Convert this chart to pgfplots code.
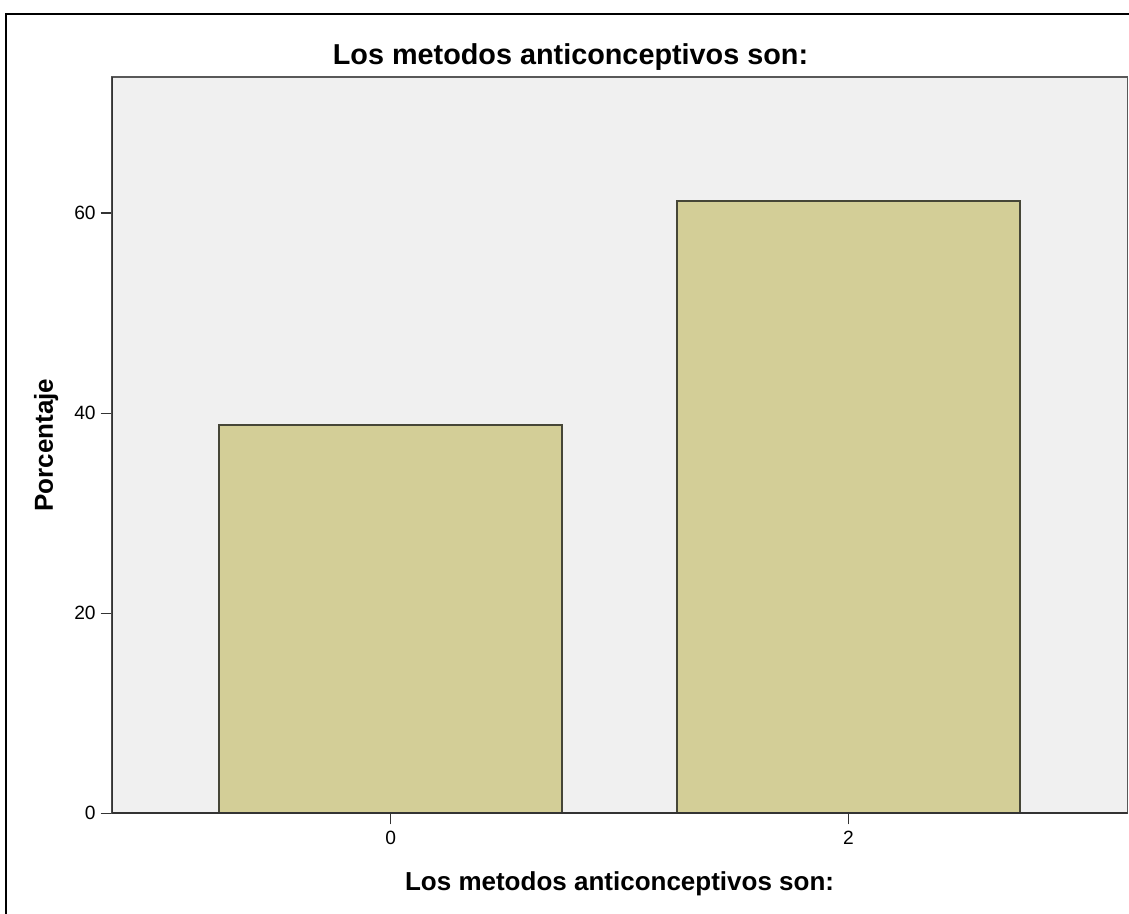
\documentclass[border=0pt]{standalone}
\usepackage{pgfplots}
\pgfplotsset{compat=1.18}
\usepackage{fontspec}
\setmainfont{Liberation Sans}
\definecolor{plotbg}{RGB}{240,240,240}
\definecolor{barfill}{RGB}{211,206,151}
\definecolor{baredge}{RGB}{70,70,55}
\begin{document}
\begin{tikzpicture}
\useasboundingbox (0,0) rectangle (564.5pt,-457pt);
\draw[line width=1.2pt,black] (2.9pt,-470pt) -- (2.9pt,-6.9pt) -- (570pt,-6.9pt);
\node[anchor=base,inner sep=0pt,font=\fontsize{14.4}{16}\selectfont\bfseries] at (285.25pt,-32.4pt) {Los metodos anticonceptivos son:};
\begin{axis}[
 at={(55.85pt,-38.5pt)}, anchor=north west,
 scale only axis, width=507.9pt, height=368.15pt,
 xmin=-0.61, xmax=1.61, ymin=0, ymax=73.6,
 axis background/.style={fill=plotbg},
 axis line style={draw=gray!70!black, line width=0.8pt},
 ybar, bar width=0.75,
 xtick={0,1}, xticklabels={0,2},
 ytick={0,20,40,60},
 tick align=outside, major tick length=5.5pt,
 xtick pos=bottom, ytick pos=left,
 tick style={black!80, line width=0.6pt},
 ticklabel style={font=\fontsize{9.6}{11}\selectfont},
 yticklabel style={xshift=1pt},
 /pgf/number format/assume math mode=true,
 xlabel={Los metodos anticonceptivos son:},
 ylabel={Porcentaje},
 xlabel style={font=\fontsize{13}{15}\selectfont\bfseries, at={(axis description cs:0.5,-0.1043)}, anchor=base, inner sep=0pt},
 ylabel style={font=\fontsize{13}{15}\selectfont\bfseries, at={(axis description cs:-0.0578,0.5)}, anchor=base, inner sep=0pt},
]
\addplot[fill=barfill, draw=baredge, line width=1pt] coordinates {(0,38.8) (1,61.2)};
\draw[black!80, line width=1pt] (rel axis cs:0,1) -- (rel axis cs:0,0) -- (rel axis cs:1,0);
\end{axis}
\end{tikzpicture}
\end{document}
